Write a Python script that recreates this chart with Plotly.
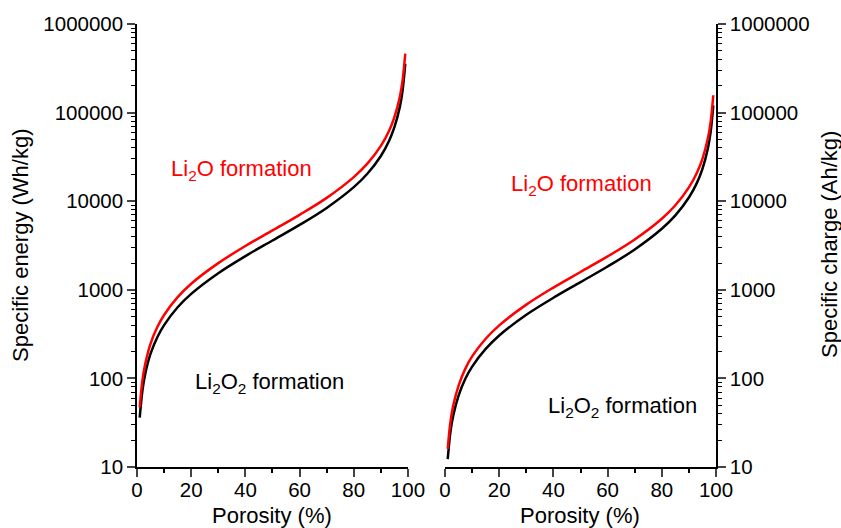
import plotly.graph_objects as go

# Porosity (%) sample points
porosity = [1, 2, 3, 5, 7.5, 10, 15, 20, 30, 40, 50, 60, 70, 80, 85, 90, 93, 95, 97, 98, 99]

# Specific energy (Wh/kg)
energy_li2o = [47, 95, 144, 247, 380, 520, 826, 1170, 2000, 3120, 4680, 7020, 10900,
               18700, 26500, 42100, 62100, 88900, 151000, 229000, 463000]
energy_li2o2 = [36, 73, 111, 190, 292, 400, 635, 900, 1540, 2400, 3600, 5400, 8400,
                14400, 20400, 32400, 47800, 68400, 116000, 176000, 356000]

# Specific charge (Ah/kg)
charge_li2o = [16, 32.4, 49, 83, 129, 177, 280, 397, 680, 1060, 1590, 2380, 3700,
               6340, 9000, 14300, 21100, 30100, 51200, 77700, 157000]
charge_li2o2 = [12.3, 24.9, 37.7, 64, 99, 136, 215, 305, 523, 813, 1220, 1830, 2850,
                4880, 6910, 11000, 16200, 23200, 39400, 59800, 121000]

x_ticks = [0, 20, 40, 60, 80, 100]
x_minor = [10, 30, 50, 70, 90]
y_ticks = [10, 100, 1000, 10000, 100000, 1000000]
y_labels = ["10", "100", "1000", "10000", "100000", "1000000"]
y_minor = [m * 10 ** d for d in range(1, 6) for m in range(2, 10)]

RED = "#ff0000"
BLACK = "#000000"
FONT = "Liberation Sans, Arial, sans-serif"
TICK_SIZE = 20.5
TEXT_SIZE = 22

fig = go.Figure()
fig.add_trace(go.Scatter(x=porosity, y=energy_li2o2, mode="lines", line=dict(color=BLACK, width=2.5, shape="spline"),
                         xaxis="x", yaxis="y", showlegend=False))
fig.add_trace(go.Scatter(x=porosity, y=energy_li2o, mode="lines", line=dict(color=RED, width=2.5, shape="spline"),
                         xaxis="x", yaxis="y", showlegend=False))
fig.add_trace(go.Scatter(x=porosity, y=charge_li2o2, mode="lines", line=dict(color=BLACK, width=2.5, shape="spline"),
                         xaxis="x2", yaxis="y2", showlegend=False))
fig.add_trace(go.Scatter(x=porosity, y=charge_li2o, mode="lines", line=dict(color=RED, width=2.5, shape="spline"),
                         xaxis="x2", yaxis="y2", showlegend=False))

xcommon = dict(range=[0, 100], tickvals=x_ticks, ticks="outside", ticklen=8, tickwidth=1.5,
               ticklabelstandoff=-4,
               showline=True, linecolor=BLACK, linewidth=1.5, showgrid=False, zeroline=False,
               tickfont=dict(size=TICK_SIZE, color=BLACK, family=FONT),
               minor=dict(tickvals=x_minor, ticks="outside", ticklen=4, tickwidth=1.5, tickcolor=BLACK))
ycommon = dict(type="log", range=[1, 6], tickvals=y_ticks, ticktext=y_labels, ticks="outside",
               ticklen=8, tickwidth=1.5, showline=True, linecolor=BLACK, linewidth=1.5,
               showgrid=False, zeroline=False, tickfont=dict(size=TICK_SIZE, color=BLACK, family=FONT),
               minor=dict(tickvals=y_minor, ticks="outside", ticklen=4, tickwidth=1.2, tickcolor=BLACK))

fig.update_layout(
    width=841, height=528,
    margin=dict(l=137, r=125, t=24, b=61),
    plot_bgcolor="white", paper_bgcolor="white",
    font=dict(family=FONT, size=TEXT_SIZE, color=BLACK),
    xaxis=dict(domain=[0, 0.468], anchor="y", **xcommon),
    yaxis=dict(anchor="x", side="left", **ycommon),
    xaxis2=dict(domain=[0.532, 1], anchor="y2", **xcommon),
    yaxis2=dict(anchor="x2", side="right", **ycommon),
)


def px_x(px):
    return (px - 137) / 579


def px_y(py):
    return (467 - py) / 443


notes = [
    (241, 170, "Li<sub>2</sub>O formation", RED),
    (269, 383, "Li<sub>2</sub>O<sub>2</sub> formation", BLACK),
    (581, 185, "Li<sub>2</sub>O formation", RED),
    (622, 407, "Li<sub>2</sub>O<sub>2</sub> formation", BLACK),
]
for x, y, txt, col in notes:
    fig.add_annotation(x=px_x(x), y=px_y(y), xref="paper", yref="paper", text=txt, showarrow=False,
                       font=dict(size=TEXT_SIZE, color=col, family=FONT), xanchor="center", yanchor="middle")

titles = [
    (20, 245, "Specific energy (Wh/kg)", -90),
    (829, 245, "Specific charge (Ah/kg)", -90),
    (272, 515, "Porosity (%)", 0),
    (580, 515, "Porosity (%)", 0),
]
for x, y, txt, ang in titles:
    fig.add_annotation(x=px_x(x), y=px_y(y), xref="paper", yref="paper", text=txt, showarrow=False,
                       textangle=ang, font=dict(size=TEXT_SIZE, color=BLACK, family=FONT),
                       xanchor="center", yanchor="middle")

fig.write_html("out.html")
